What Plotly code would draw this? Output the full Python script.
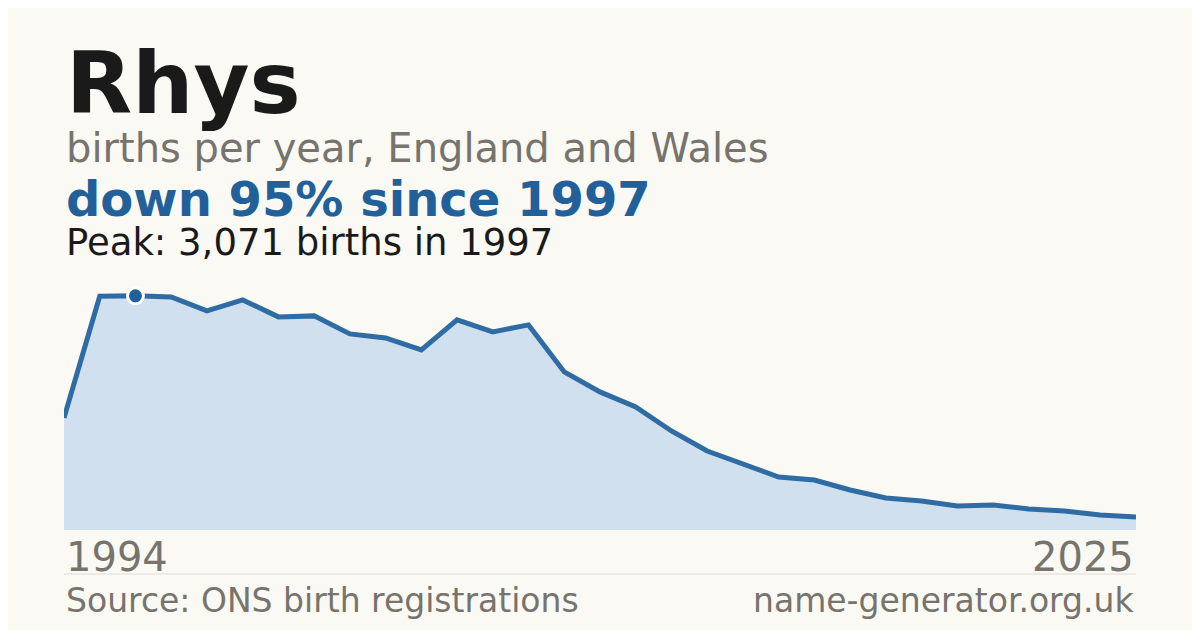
import plotly.graph_objects as go

years = list(range(1995, 2026))
births = [1470, 3065, 3071, 3057, 2873, 3018, 2795, 2808, 2572, 2519, 2362, 2755, 2598, 2690,
          2073, 1811, 1614, 1299, 1036, 866, 695, 656, 525, 420, 380, 315, 328, 276, 249, 197, 171]
tick_labels = ["1994", "2025"]
peak_year = 1997
peak_value = 3071

BG = "#faf9f4"
BLUE = "#22609a"
GRAY = "#77736d"
FONT = "DejaVu Sans"

fig = go.Figure()
fig.add_trace(go.Scatter(x=years, y=births, mode="lines", fill="tozeroy",
                         fillcolor="#d0e0ef", line=dict(color="#2f6ca3", width=5),
                         hoverinfo="skip"))
fig.add_trace(go.Scatter(x=[peak_year], y=[peak_value], mode="markers",
                         marker=dict(size=16, color=BLUE, line=dict(color="white", width=3)),
                         hoverinfo="skip"))

def py(ypx):
    # screen pixel row -> paper coordinate (plot area 286..530 on screen)
    return (530 - ypx) / 244

texts = [
    ("Rhys", 83, 86, "#1a1a1a", True),
    ("births per year, England and Wales", 148, 40, GRAY, False),
    ("down 95% since 1997", 199, 48, BLUE, True),
    (f"Peak: {peak_value:,} births in {peak_year}", 242, 37, "#1a1a1a", False),
]
for t, y, s, c, b in texts:
    fig.add_annotation(x=0, xref="paper", y=py(y), yref="paper", xanchor="left", yanchor="middle",
                       text=f"<b>{t}</b>" if b else t, showarrow=False, font=dict(size=s, color=c, family=FONT))

fig.add_annotation(x=0, xref="paper", y=py(557), yref="paper", xanchor="left", yanchor="middle",
                   text=tick_labels[0], showarrow=False, font=dict(size=40, color=GRAY, family=FONT))
fig.add_annotation(x=1, xref="paper", y=py(557), yref="paper", xanchor="right", yanchor="middle",
                   text=tick_labels[1], showarrow=False, font=dict(size=40, color=GRAY, family=FONT))
fig.add_annotation(x=0, xref="paper", y=py(600), yref="paper", xanchor="left", yanchor="middle",
                   text="Source: ONS birth registrations", showarrow=False, font=dict(size=33, color=GRAY, family=FONT))
fig.add_annotation(x=1, xref="paper", y=py(600), yref="paper", xanchor="right", yanchor="middle",
                   text="name-generator.org.uk", showarrow=False, font=dict(size=33, color=GRAY, family=FONT))
fig.add_shape(type="line", xref="paper", yref="paper", x0=0, x1=1, y0=py(574), y1=py(574),
              line=dict(color="#e0ddd6", width=1))

fig.update_layout(width=1200, height=630, paper_bgcolor=BG, plot_bgcolor=BG, showlegend=False,
                  margin=dict(l=56, r=72, t=278, b=108),
                  xaxis=dict(range=[1995, 2025], visible=False),
                  yaxis=dict(range=[0, 3200], visible=False))
fig.write_html("out.html")
